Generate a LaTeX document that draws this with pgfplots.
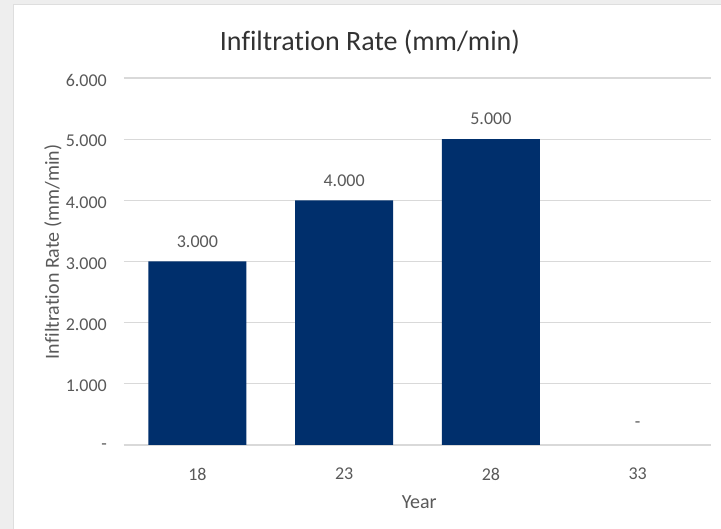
\documentclass[border=0pt]{standalone}
\usepackage{pgfplots}
\pgfplotsset{compat=1.18}
\usepackage{fontspec}
\setmainfont{Carlito}[Ligatures={NoCommon}]
\definecolor{barblue}{RGB}{0,47,108}
\definecolor{gridgray}{RGB}{217,217,217}
\definecolor{txtgray}{RGB}{89,89,89}
\definecolor{titlegray}{RGB}{50,50,50}
\definecolor{bggray}{RGB}{238,238,238}
\definecolor{edgegray}{RGB}{222,222,222}
\begin{document}
\begin{tikzpicture}[x=1pt,y=1pt]
\useasboundingbox (-124,-84) rectangle (597,445);
\fill[bggray] (-124,-84) rectangle (597,445);
\fill[white] (-111,-84) rectangle (597,441);
\draw[edgegray, line width=0.8pt] (-111,-90) -- (-111,441) -- (600,441);
\begin{axis}[
  at={(0,0)}, anchor=south west,
  scale only axis, width=587pt, height=367pt,
  xmin=-0.5, xmax=3.5, ymin=0, ymax=6,
  axis lines*=left,
  y axis line style={draw=none},
  x axis line style={draw=gridgray, line width=1.3pt},
  ymajorgrids, grid style={draw=gridgray, line width=1.3pt},
  major tick length=0,
  xtick={0,1,2,3}, xticklabels={18,23,28,33},
  ytick={0,1,2,3,4,5,6}, yticklabels={-,1.000,2.000,3.000,4.000,5.000,6.000},
  xticklabel style={font=\fontsize{18}{20}\selectfont, text=txtgray, anchor=center, inner sep=0pt, yshift=-29pt},
  yticklabel style={font=\fontsize{18}{20}\selectfont, text=txtgray, anchor=east, inner sep=0pt, xshift=-17pt, yshift=-2pt},
  title={Infiltration Rate (mm/min)},
  title style={at={(axis description cs:0.419,1.082)}, anchor=center, font=\fontsize{28}{30}\selectfont, text=titlegray, inner sep=0pt},
  xlabel={Year},
  xlabel style={at={(axis description cs:0.503,-0.155)}, anchor=center, font=\fontsize{20}{22}\selectfont, text=txtgray, inner sep=0pt},
  ylabel={Infiltration Rate (mm/min)},
  ylabel style={at={(axis description cs:-0.121,0.526)}, anchor=center, font=\fontsize{20}{22}\selectfont, text=txtgray, inner sep=0pt},
  ybar, bar width=98pt, bar shift=0pt,
  point meta=explicit symbolic,
  nodes near coords={\pgfplotspointmeta},
  nodes near coords style={font=\fontsize{18}{20}\selectfont, text=txtgray, anchor=center, inner sep=0pt, yshift=20pt},
  clip=false,
]
\addplot[fill=barblue, draw=none] coordinates {(0,3) [3.000] (1,4) [4.000] (2,5) [5.000]};
\addplot[fill=none, draw=none] coordinates {(3,0) [-]};
\end{axis}
\end{tikzpicture}
\end{document}
